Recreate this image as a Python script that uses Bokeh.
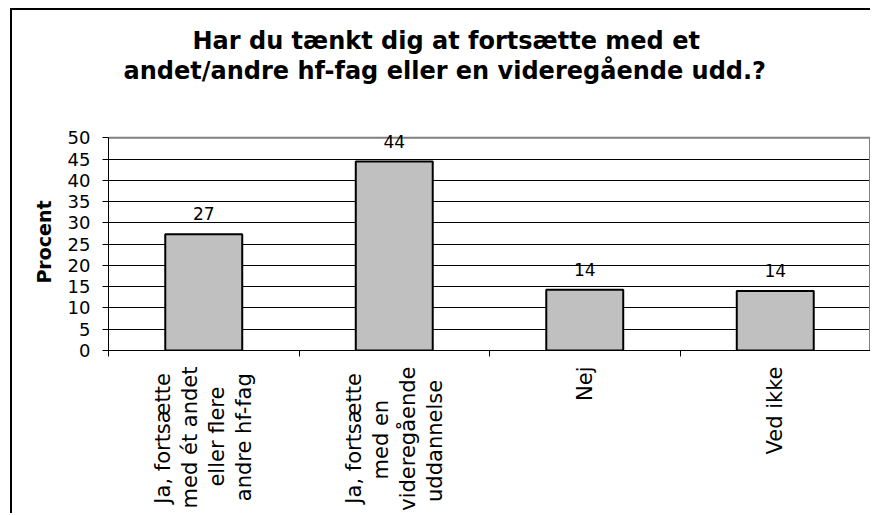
import math
from bokeh.plotting import figure
from bokeh.models import (Range1d, FixedTicker, LinearAxis, ColumnDataSource,
                          LabelSet, SingleIntervalTicker, Title, Grid)
from bokeh.core.properties import value
from bokeh.embed import file_html
from bokeh.resources import INLINE

title_lines = ["Har du tænkt dig at fortsætte med et",
               "andet/andre hf-fag eller en videregående udd.?"]
categories = [
    ["Ja, fortsætte", "med ét andet", "eller flere", "andre hf-fag"],
    ["Ja, fortsætte", "med en", "videregående", "uddannelse"],
    ["Nej"],
    ["Ved ikke"],
]
values = [27.3, 44.4, 14.3, 14.0]
value_labels = ["27", "44", "14", "14"]
y_axis_title = "Procent"
y_max = 50
y_step = 5

FONT = "DejaVu Sans"
NBSP = "\u00a0"
# trailing no-break spaces so the (right-aligned) lines look centred
line_pad = [[1, 0, 3, 1], [1, 5, 0, 2], [0], [0]]

n = len(categories)
centers = [i + 0.5 for i in range(n)]
bounds = [i for i in range(n + 1)]
label_text = ["\n".join(l + NBSP * k for l, k in zip(lines, pads))
              for lines, pads in zip(categories, line_pad)]

p = figure(width=860, height=505, output_backend="svg", toolbar_location=None,
           x_range=Range1d(0, n), y_range=Range1d(0, y_max + 1),
           x_axis_type=None, y_axis_type=None, title=None,
           min_border_left=96, min_border_right=2, min_border_top=123,
           min_border_bottom=165)
p.styles = {"border-top": "2px solid black", "border-left": "2px solid black",
            "margin-left": "10px", "margin-top": "8px"}
p.background_fill_color = "white"
p.border_fill_color = "white"
p.outline_line_color = None

# title: spacer + two lines (first added is nearest to the plot area)
spacer = Title(text=" ", text_font_size="1px", standoff=46)
t2 = Title(text=title_lines[1], align="left", offset=15, standoff=0,
           text_font=FONT, text_font_size="24px", text_font_style="bold",
           text_color="black")
t1 = Title(text=title_lines[0], align="left", offset=84, standoff=0,
           text_font=FONT, text_font_size="24px", text_font_style="bold",
           text_color="black")
p.add_layout(spacer, "above")
p.add_layout(t2, "above")
p.add_layout(t1, "above")

# y axis
yaxis = LinearAxis(ticker=SingleIntervalTicker(interval=y_step), bounds=(0, y_max))
yaxis.axis_label = y_axis_title
yaxis.axis_label_text_font = FONT
yaxis.axis_label_text_font_size = "19px"
yaxis.axis_label_text_font_style = "bold"
yaxis.axis_label_text_color = "black"
yaxis.axis_label_standoff = 10
yaxis.major_label_text_font = FONT
yaxis.major_label_text_font_size = "18px"
yaxis.major_label_text_color = "black"
yaxis.major_label_standoff = 12
yaxis.major_tick_out = 6
yaxis.major_tick_in = 0
yaxis.minor_tick_line_color = None
yaxis.axis_line_color = "black"
yaxis.major_tick_line_color = "black"
p.add_layout(yaxis, "left")

# x axis: labels at category centres, separator ticks between categories
xaxis = LinearAxis(ticker=FixedTicker(ticks=centers, minor_ticks=bounds))
xaxis.major_label_overrides = {c: lab for c, lab in zip(centers, label_text)}
xaxis.major_label_orientation = math.pi / 2
xaxis.major_label_text_font = FONT
xaxis.major_label_text_font_size = "21px"
xaxis.major_label_text_color = "black"
xaxis.major_label_text_line_height = 1.12
xaxis.major_label_standoff = 10
xaxis.major_tick_out = 0
xaxis.major_tick_in = 0
xaxis.major_tick_line_color = None
xaxis.minor_tick_out = 6
xaxis.minor_tick_in = 0
xaxis.minor_tick_line_color = "black"
xaxis.axis_line_color = "black"
p.add_layout(xaxis, "below")

grid = Grid(dimension=1, ticker=SingleIntervalTicker(interval=y_step),
            grid_line_color="black", grid_line_width=1)
p.add_layout(grid)

# plot-area frame (top and right, grey)
p.segment(x0=[0, n], y0=[y_max, 0], x1=[n, n], y1=[y_max, y_max],
          line_color="#808080", line_width=[2, 3])

src = ColumnDataSource(dict(x=centers, top=values, label=value_labels))
p.vbar(x="x", top="top", bottom=0, width=0.404, source=src,
       fill_color="#c0c0c0", line_color="black", line_width=2)

labels = LabelSet(x="x", y="top", text="label", source=src,
                  text_align="center", text_baseline="alphabetic", y_offset=14,
                  text_font=value(FONT), text_font_size=value("17px"),
                  text_color="black")
p.add_layout(labels)

open("out.html", "w").write(file_html(p, INLINE))
